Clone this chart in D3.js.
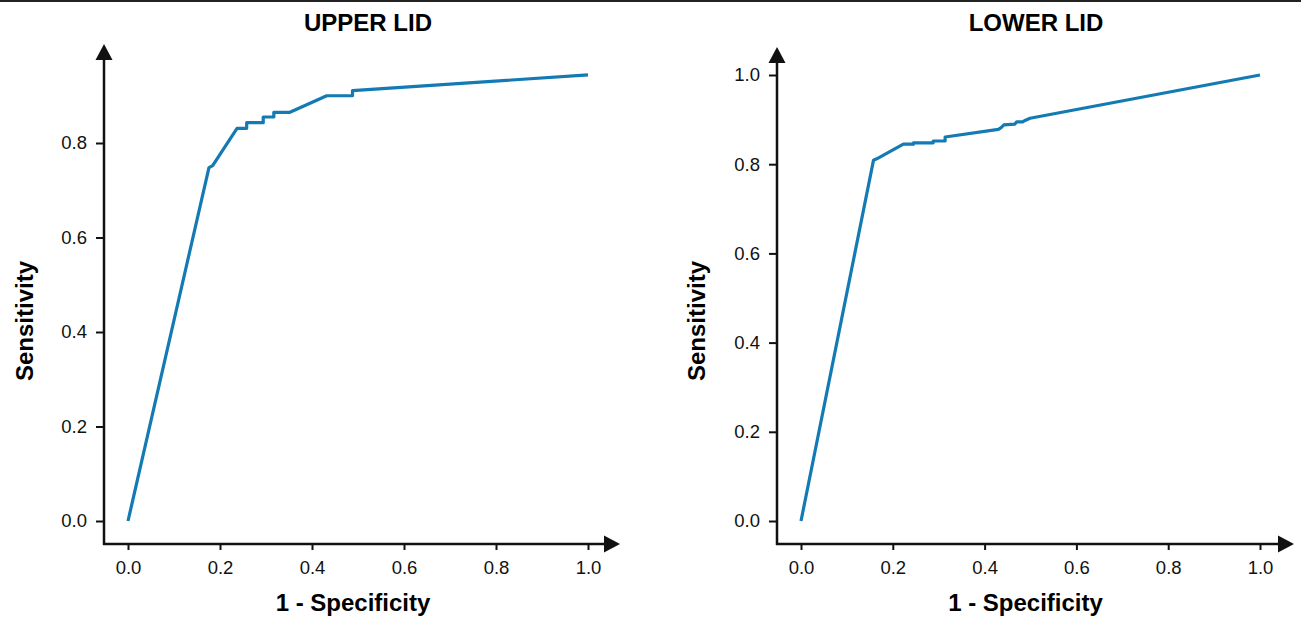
<!DOCTYPE html>
<html>
<head>
<meta charset="utf-8">
<script src="https://cdn.jsdelivr.net/npm/d3@7"></script>
<style>
  body { margin: 0; background: #fff; }
  svg { display: block; font-family: "Liberation Sans", Arial, sans-serif; }
</style>
</head>
<body>
<svg id="chart" width="1301" height="617"></svg>
<script>
// ROC points
var upperFpr = [0, 0.176, 0.184, 0.237, 0.258, 0.258, 0.294, 0.294, 0.317, 0.317, 0.352, 0.432, 0.488, 0.488, 1.0];
var upperTpr = [0, 0.748, 0.752, 0.831, 0.831, 0.843, 0.843, 0.855, 0.855, 0.865, 0.865, 0.900, 0.900, 0.911, 0.944];

var lowerFpr = [0, 0.158, 0.165, 0.223, 0.245, 0.245, 0.288, 0.288, 0.314, 0.314, 0.430, 0.436, 0.442, 0.466, 0.470, 0.483, 0.488, 0.499, 1.0];
var lowerTpr = [0, 0.809, 0.812, 0.845, 0.845, 0.848, 0.848, 0.852, 0.852, 0.861, 0.878, 0.882, 0.888, 0.890, 0.895, 0.895, 0.898, 0.903, 1.0];

var xTicks = [0, 0.2, 0.4, 0.6, 0.8, 1.0];
var upperYTicks = [0, 0.2, 0.4, 0.6, 0.8];
var lowerYTicks = [0, 0.2, 0.4, 0.6, 0.8, 1.0];

var titles = ['UPPER LID', 'LOWER LID'];

var svg = d3.select('#chart');
var lineColor = '#137ab3';

// thin frame line at the very top
svg.append('rect')
  .attr('x', 0).attr('y', 0)
  .attr('width', 1301).attr('height', 2)
  .attr('fill', '#222');

var panels = [
  { title: titles[0], fpr: upperFpr, tpr: upperTpr, yTicks: upperYTicks,
    xr: [128, 588], yr: [521, 48.5], axisX: 104, axisY: 544, xEnd: 620, yTop: 44, titleX: 368, labelX: 33 },
  { title: titles[1], fpr: lowerFpr, tpr: lowerTpr, yTicks: lowerYTicks,
    xr: [801, 1260], yr: [521, 75], axisX: 777, axisY: 544, xEnd: 1294, yTop: 47, titleX: 1036, labelX: 705 }
];

panels.forEach(drawPanel);

function drawPanel(p) {
  var x = d3.scaleLinear().domain([0, 1]).range(p.xr);
  var y = d3.scaleLinear().domain([0, 1]).range(p.yr);
  var g = svg.append('g');

  // x axis ticks
  var xa = g.append('g')
    .attr('transform', 'translate(0,' + p.axisY + ')')
    .call(d3.axisBottom(x).tickValues(xTicks).tickSize(6).tickPadding(11).tickFormat(d3.format('.1f')));
  // y axis ticks
  var ya = g.append('g')
    .attr('transform', 'translate(' + p.axisX + ',0)')
    .call(d3.axisLeft(y).tickValues(p.yTicks).tickSize(8).tickPadding(9).tickFormat(d3.format('.1f')));

  [xa, ya].forEach(function(a) {
    a.select('.domain').remove();
    a.selectAll('line').attr('stroke', '#111').attr('stroke-width', 2);
    a.selectAll('text')
      .attr('fill', '#111')
      .style('font-size', '18.5px')
      .style('font-family', '"Liberation Sans", Arial, sans-serif');
  });

  // axis lines with arrow heads
  g.append('line')
    .attr('x1', p.axisX - 1).attr('x2', p.xEnd - 14)
    .attr('y1', p.axisY).attr('y2', p.axisY)
    .attr('stroke', '#111').attr('stroke-width', 2.5);
  g.append('path')
    .attr('d', 'M' + p.xEnd + ',' + p.axisY + 'l-16,-8.5v17z')
    .attr('fill', '#111');

  g.append('line')
    .attr('x1', p.axisX).attr('x2', p.axisX)
    .attr('y1', p.axisY + 1).attr('y2', p.yTop + 14)
    .attr('stroke', '#111').attr('stroke-width', 2.5);
  g.append('path')
    .attr('d', 'M' + p.axisX + ',' + p.yTop + 'l-8.5,16h17z')
    .attr('fill', '#111');

  // curve
  var pts = p.fpr.map(function(f, i) { return [f, p.tpr[i]]; });
  g.append('path')
    .datum(pts)
    .attr('fill', 'none')
    .attr('stroke', lineColor)
    .attr('stroke-width', 3.2)
    .attr('stroke-linejoin', 'round')
    .attr('d', d3.line().x(function(d) { return x(d[0]); }).y(function(d) { return y(d[1]); }));

  // titles
  g.append('text')
    .attr('x', p.titleX).attr('y', 31)
    .attr('text-anchor', 'middle')
    .style('font-size', '24px').style('font-weight', 'bold')
    .text(p.title);

  g.append('text')
    .attr('x', (p.xr[0] + p.xr[1]) / 2 - 5).attr('y', 611)
    .attr('text-anchor', 'middle')
    .style('font-size', '24px').style('font-weight', 'bold')
    .text('1 - Specificity');

  g.append('text')
    .attr('transform', 'translate(' + p.labelX + ',' + 321 + ') rotate(-90)')
    .attr('text-anchor', 'middle')
    .style('font-size', '24px').style('font-weight', 'bold')
    .text('Sensitivity');
}
</script>
</body>
</html>
